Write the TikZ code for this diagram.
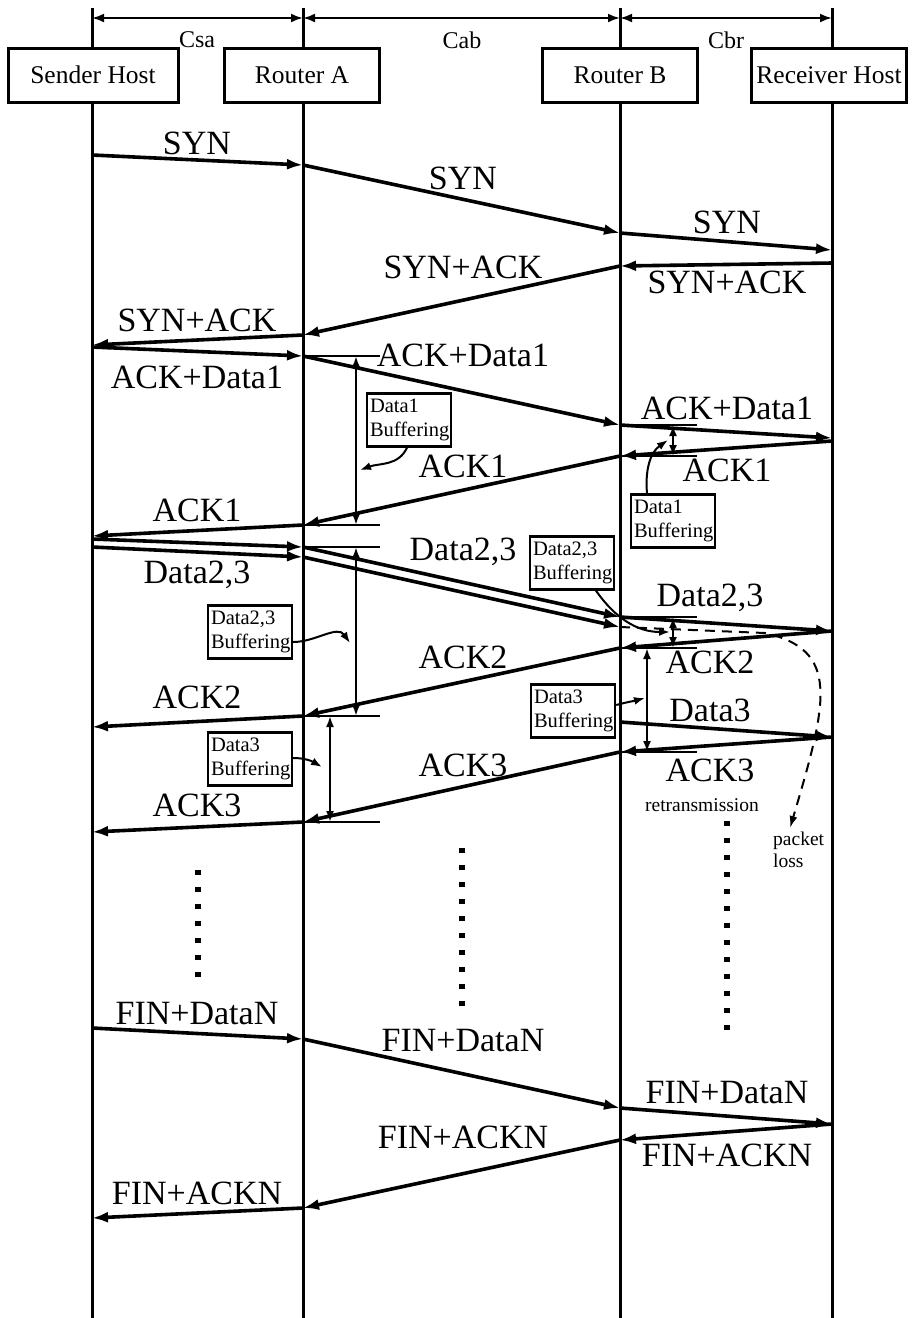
\documentclass[tikz,border=0pt]{standalone}
\usepackage{fontspec}
\setmainfont{Liberation Serif}
\usetikzlibrary{arrows.meta,positioning}
\tikzset{
  % a host or router box at the top
  hostbox/.style = {draw, fill=white, line width=3pt, minimum height=54pt, inner sep=1pt,
                    font=\fontsize{25.5}{30}\selectfont},
  % vertical time line of a host
  lifeline/.style = {line width=3pt},
  % a packet sent between two time lines
  msg/.style = {line width=3.6pt, -{Latex[length=16pt,width=11pt]}},
  % label of a packet
  lbl/.style = {font=\fontsize{34}{38}\selectfont, inner sep=0pt, text height=22pt, text depth=0pt},
  % link name at the top
  clbl/.style = {font=\fontsize{24}{26}\selectfont, inner sep=0pt},
  % width arrow of a link
  dimarr/.style = {line width=2.2pt, {Latex[length=12pt,width=9pt]}-{Latex[length=12pt,width=9pt]}},
  % short mark of a buffering interval
  holdtick/.style = {line width=2pt},
  % buffering interval
  holdarr/.style = {line width=2pt, {Latex[length=11pt,width=8pt]}-{Latex[length=11pt,width=8pt]}},
  % small note box
  bufbox/.style = {draw, fill=white, line width=2.4pt, text width=78pt, align=left, inner sep=3pt,
                   minimum height=53pt, font=\fontsize{20.5}{24}\selectfont},
  % arrow from a note to an interval
  pointer/.style = {line width=2pt, -{Latex[length=11pt,width=8pt]}},
  % lost packet
  lossarr/.style = {line width=2pt, dash pattern=on 10pt off 7pt, -{Latex[length=12pt,width=8pt]}},
  small/.style = {font=\fontsize{19.5}{22}\selectfont, inner sep=0pt},
}

\begin{document}
\begin{tikzpicture}[x=1pt,y=-1pt]
  \useasboundingbox (0,0) rectangle (911,1318);

  % time lines
  \coordinate (sTop) at (92,8);   \coordinate (sBot) at (92,1318);
  \coordinate (aTop) at (303,8);  \coordinate (aBot) at (303,1318);
  \coordinate (bTop) at (620,8);  \coordinate (bBot) at (620,1318);
  \coordinate (rTop) at (832,8);  \coordinate (rBot) at (832,1318);
  \draw[lifeline] (sTop) -- (sBot);
  \draw[lifeline] (aTop) -- (aBot);
  \draw[lifeline] (bTop) -- (bBot);
  \draw[lifeline] (rTop) -- (rBot);

  % hosts
  \node[hostbox,minimum width=170pt] (snd) at (93,75)  {Sender Host};
  \node[hostbox,minimum width=155pt] (rta) at (302,75) {Router A};
  \node[hostbox,minimum width=155pt] (rtb) at (620,75) {Router B};
  \node[hostbox,minimum width=155pt] (rcv) at (829,75) {Receiver Host};

  % link widths
  \coordinate (dS) at (92,18);  \coordinate (dA) at (303,18);
  \coordinate (dB) at (620,18); \coordinate (dR) at (832,18);
  \draw[dimarr] (dS) -- (dA);
  \draw[dimarr] (dA) -- (dB);
  \draw[dimarr] (dB) -- (dR);
  \node[clbl] (csa) at (197,40) {Csa};
  \node[clbl] (cab) at (462,40) {Cab};
  \node[clbl] (cbr) at (726,40) {Cbr};

  % events on the sender
  \coordinate (s1) at (92,155);  \coordinate (s2) at (92,345);
  \coordinate (s3) at (92,347);  \coordinate (s4) at (92,536);
  \coordinate (s5) at (92,539);  \coordinate (s6) at (92,547);
  \coordinate (s7) at (92,727);  \coordinate (s8) at (92,832);
  \coordinate (s9) at (92,1028); \coordinate (s10) at (92,1218);
  % events on router A
  \coordinate (a1) at (303,165);  \coordinate (a2) at (303,335);
  \coordinate (a3) at (303,356);  \coordinate (a4) at (303,525);
  \coordinate (a5) at (303,547);  \coordinate (a6) at (303,557);
  \coordinate (a7) at (303,716);  \coordinate (a8) at (303,822);
  \coordinate (a9) at (303,1039); \coordinate (a10) at (303,1208);
  % events on router B
  \coordinate (b1) at (620,233);  \coordinate (b2) at (620,266);
  \coordinate (b3) at (620,425);  \coordinate (b4) at (620,456);
  \coordinate (b5) at (620,617);  \coordinate (b6) at (620,627);
  \coordinate (b7) at (620,648);  \coordinate (b8) at (620,722);
  \coordinate (b9) at (620,752);  \coordinate (b10) at (620,1108);
  \coordinate (b11) at (620,1140);
  % events on the receiver
  \coordinate (r1) at (832,250);  \coordinate (r2) at (832,263);
  \coordinate (r3) at (832,438);  \coordinate (r4) at (832,441);
  \coordinate (r5) at (832,631);  \coordinate (r6) at (832,737);
  \coordinate (r7) at (832,1124);

  % handshake
  \draw[msg] (s1) -- (a1);  \node[lbl] (l1) at (197,143) {SYN};
  \draw[msg] (a1) -- (b1);  \node[lbl] (l2) at (463,178) {SYN};
  \draw[msg] (b1) -- (r1);  \node[lbl] (l3) at (727,222) {SYN};
  \draw[msg] (r2) -- (b2);  \node[lbl] (l4) at (727,282) {SYN+ACK};
  \draw[msg] (b2) -- (a2);  \node[lbl] (l5) at (463,267) {SYN+ACK};
  \draw[msg] (a2) -- (s2);  \node[lbl] (l6) at (197,320) {SYN+ACK};

  % first data
  \draw[msg] (s3) -- (a3);  \node[lbl] (l7) at (197,377) {ACK+Data1};
  \draw[msg] (a3) -- (b3);  \node[lbl] (l8) at (463,355) {ACK+Data1};
  \draw[msg] (b3) -- (r3);  \node[lbl] (l9) at (727,408) {ACK+Data1};
  \draw[msg] (r4) -- (b4);  \node[lbl] (l10) at (727,470) {ACK1};
  \draw[msg] (b4) -- (a4);  \node[lbl] (l11) at (463,466) {ACK1};
  \draw[msg] (a4) -- (s4);  \node[lbl] (l12) at (197,510) {ACK1};

  % second and third data
  \draw[msg] (s5) -- (a5);
  \draw[msg] (s6) -- (a6);  \node[lbl] (l13) at (197,572) {Data2,3};
  \draw[msg] (a5) -- (b5);
  \draw[msg] (a6) -- (b6);  \node[lbl] (l14) at (463,549) {Data2,3};
  \draw[msg] (b5) -- (r5);  \node[lbl] (l15) at (710,595) {Data2,3};
  \draw[msg] (r5) -- (b7);  \node[lbl] (l16) at (710,662) {ACK2};
  \draw[msg] (b7) -- (a7);  \node[lbl] (l17) at (463,657) {ACK2};
  \draw[msg] (a7) -- (s7);  \node[lbl] (l18) at (197,697) {ACK2};
  \draw[msg] (b8) -- (r6);  \node[lbl] (l19) at (710,710) {Data3};
  \draw[msg] (r6) -- (b9);  \node[lbl] (l20) at (710,770) {ACK3};
  \draw[msg] (b9) -- (a8);  \node[lbl] (l21) at (463,765) {ACK3};
  \draw[msg] (a8) -- (s8);  \node[lbl] (l22) at (197,805) {ACK3};

  % closing
  \draw[msg] (s9) -- (a9);    \node[lbl] (l23) at (197,1013) {FIN+DataN};
  \draw[msg] (a9) -- (b10);   \node[lbl] (l24) at (463,1040) {FIN+DataN};
  \draw[msg] (b10) -- (r7);   \node[lbl] (l25) at (727,1092) {FIN+DataN};
  \draw[msg] (r7) -- (b11);   \node[lbl] (l26) at (727,1155) {FIN+ACKN};
  \draw[msg] (b11) -- (a10);  \node[lbl] (l27) at (463,1137) {FIN+ACKN};
  \draw[msg] (a10) -- (s10);  \node[lbl] (l28) at (197,1193) {FIN+ACKN};

  % buffering marks
  \foreach \p in {a3,a4,a5,a7,a8,b3,b4,b5,b7,b9}
    \draw[holdtick] (\p) -- ++(77,0);
  \draw[holdarr] ([xshift=53pt]a3) -- ([xshift=53pt]a4);
  \draw[holdarr] ([xshift=53pt]a5) -- ([xshift=53pt]a7);
  \draw[holdarr] ([xshift=27pt]a7) -- ([xshift=27pt]a8);
  \draw[holdarr] ([xshift=53pt]b3) -- ([xshift=53pt]b4);
  \draw[holdarr] ([xshift=53pt]b5) -- ([xshift=53pt]b7);
  \draw[holdarr] ([xshift=27pt]b7) -- ([xshift=27pt]b9);

  % notes
  \node[bufbox] (bufA1) at (409,420) {Data1\\Buffering};
  \node[bufbox] (bufB1) at (673,521) {Data1\\Buffering};
  \node[bufbox] (bufB23) at (572,563) {Data2,3\\Buffering};
  \node[bufbox] (bufA23) at (250,632) {Data2,3\\Buffering};
  \node[bufbox] (bufA3) at (250,759) {Data3\\Buffering};
  \node[bufbox] (bufB3) at (573,711) {Data3\\Buffering};
  \draw[pointer] ([xshift=-2pt]bufA1.south) to[out=-115,in=20] (360,470);
  \draw[pointer] ([xshift=-26pt]bufB1.north) to[out=95,in=215] (668,440);
  \draw[pointer] ([xshift=24pt]bufB23.south) to[out=-55,in=180] (670,632);
  \draw[pointer] ([yshift=-10pt]bufA23.east) to[out=0,in=125] (350,643);
  \draw[pointer] ([yshift=1pt]bufA3.east) to[out=0,in=150] (322,767);
  \draw[pointer] ([yshift=6pt]bufB3.east) to[out=15,in=195] (645,698);

  % lost packet
  \coordinate (loss) at (790,828);
  \draw[lossarr] (b6) -- (765,633) .. controls (840,650) and (828,700) .. (loss);
  \node[small,anchor=north west,align=left] (losstxt) at (773,832) {packet\\loss};
  \node[small] (retx) at (702,805) {retransmission};

  % continuation dots
  \foreach \i in {0,...,6}
    \fill (195,{870+17*\i}) rectangle ++(6,5);
  \foreach \i in {0,...,9}
    \fill (459,{848+17*\i}) rectangle ++(6,5);
  \foreach \i in {0,...,12}
    \fill (724,{821+17*\i}) rectangle ++(6,5);
\end{tikzpicture}
\end{document}
